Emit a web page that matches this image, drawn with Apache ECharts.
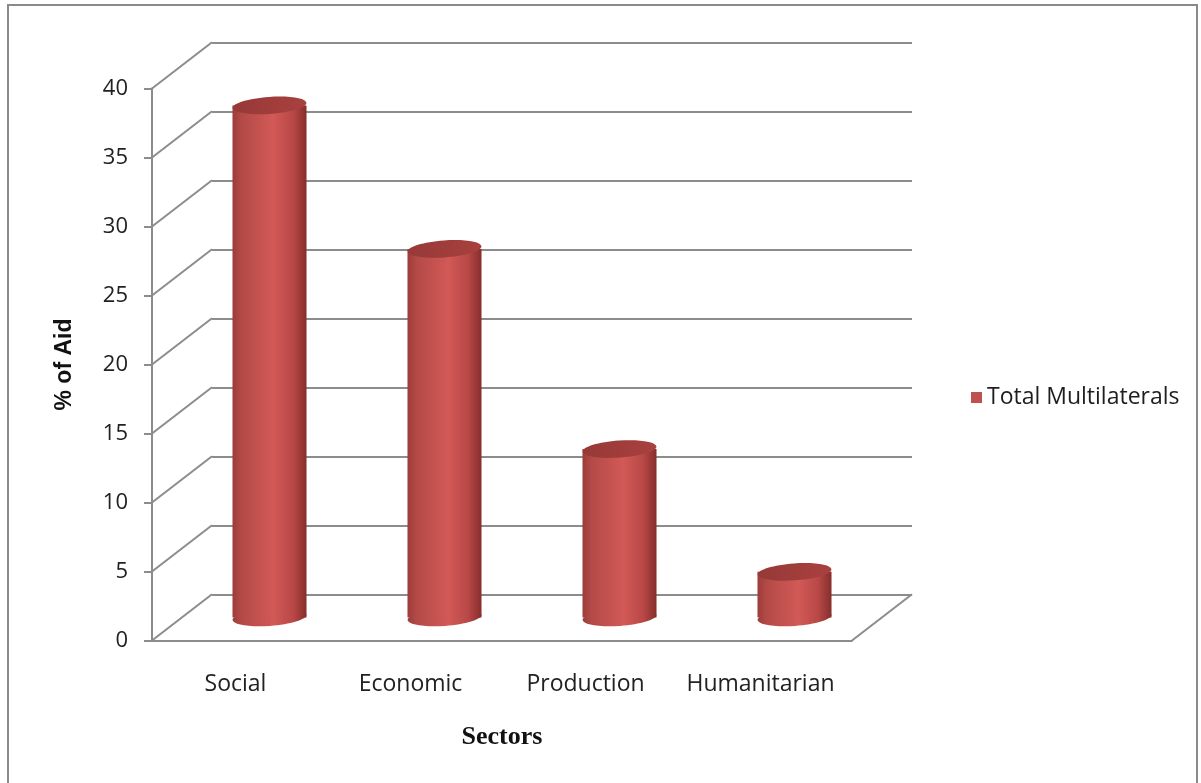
<!DOCTYPE html>
<html>
<head>
<meta charset="utf-8">
<title>% of Aid by Sector</title>
<script src="https://cdn.jsdelivr.net/npm/echarts@6/dist/echarts.min.js"></script>
<style>
  html, body { margin: 0; padding: 0; background: #ffffff; }
  #chart { width: 1201px; height: 783px; }
</style>
</head>
<body>
<div id="chart"></div>
<script>
// Sector shares of total multilateral aid
const categories = ['Social', 'Economic', 'Production', 'Humanitarian'];
const seriesName = 'Total Multilaterals';
const values = [37.1, 26.7, 12.2, 3.3];
const yTicks = [0, 5, 10, 15, 20, 25, 30, 35, 40];

// 3D box: front plane, back wall and the mid-depth plane the cylinders stand on
const DEPTH_X = 60;
const DEPTH_Y = -46.2;
const PLOT_W = 700;
const PLOT_H = 552;
const FRONT = { left: 152, top: 88.5 };
const GRID_COLOR = '#8c8c8c';
const LABEL_FONT = 'Open Sans';

const chart = echarts.init(document.getElementById('chart'), null, { renderer: 'canvas' });

const bodyGradient = () => new echarts.graphic.LinearGradient(0, 0, 1, 0, [
  { offset: 0, color: '#9c3c3a' },
  { offset: 0.12, color: '#b34a47' },
  { offset: 0.55, color: '#d25956' },
  { offset: 0.82, color: '#b84846' },
  { offset: 1, color: '#852e2c' }
]);
const topGradient = () => new echarts.graphic.LinearGradient(0, 0, 1, 1, [
  { offset: 0, color: '#963937' },
  { offset: 1, color: '#a9413f' }
]);

const valueAxisBase = {
  type: 'value', min: 0, max: 40, interval: 5
};

const option = {
  backgroundColor: '#ffffff',
  animation: false,
  graphic: [{
    type: 'rect',
    shape: { x: 8, y: 5, width: 1189, height: 790 },
    style: { fill: 'none', stroke: '#8a8a8a', lineWidth: 2 },
    silent: true
  }],
  legend: {
    data: [seriesName],
    left: 966,
    top: 381,
    icon: 'rect',
    itemWidth: 11,
    itemHeight: 11,
    itemGap: 8,
    textStyle: { fontFamily: LABEL_FONT, fontSize: 23, color: '#1e1e1e' }
  },
  grid: [
    // front plane (axis labels, floor front edge)
    { left: FRONT.left, top: FRONT.top, width: PLOT_W, height: PLOT_H, containLabel: false },
    // back wall (horizontal gridlines)
    { left: FRONT.left + DEPTH_X, top: FRONT.top + DEPTH_Y, width: PLOT_W, height: PLOT_H, containLabel: false },
    // mid-depth plane (cylinders)
    { left: FRONT.left + DEPTH_X / 2, top: FRONT.top + DEPTH_Y / 2, width: PLOT_W, height: PLOT_H, containLabel: false }
  ],
  xAxis: [
    {
      gridIndex: 0, type: 'category', data: categories,
      axisLine: { show: true, lineStyle: { color: GRID_COLOR, width: 2 } },
      axisTick: { show: false },
      axisLabel: {
        interval: 0, hideOverlap: false, margin: 32, padding: [0, 8, 0, 0],
        fontFamily: LABEL_FONT, fontSize: 23, color: '#222222'
      },
      name: 'Sectors', nameLocation: 'middle', nameGap: 84,
      nameTextStyle: { fontFamily: 'Liberation Serif', fontWeight: 'bold', fontSize: 26, color: '#111111' }
    },
    { gridIndex: 1, type: 'category', data: categories, show: false },
    { gridIndex: 2, type: 'category', data: categories, show: false }
  ],
  yAxis: [
    Object.assign({}, valueAxisBase, {
      gridIndex: 0,
      axisLine: { show: true, lineStyle: { color: GRID_COLOR, width: 2 } },
      axisTick: { show: true, length: 8, lineStyle: { color: GRID_COLOR, width: 2 } },
      axisLabel: { margin: 24, fontFamily: LABEL_FONT, fontSize: 22, color: '#222222' },
      splitLine: { show: false },
      name: '% of Aid', nameLocation: 'middle', nameGap: 76, nameRotate: 90,
      nameTextStyle: { fontFamily: 'Liberation Sans', fontWeight: 'bold', fontSize: 23, color: '#111111' }
    }),
    Object.assign({}, valueAxisBase, {
      gridIndex: 1,
      axisLine: { show: false }, axisTick: { show: false }, axisLabel: { show: false },
      splitLine: { show: true, lineStyle: { color: GRID_COLOR, width: 2 } }
    }),
    Object.assign({}, valueAxisBase, {
      gridIndex: 2, show: false, splitLine: { show: false }
    })
  ],
  series: [
    {
      // side wall diagonals and the floor's right edge
      type: 'custom',
      xAxisIndex: 0, yAxisIndex: 0,
      silent: true,
      data: yTicks.map(v => [0, v]),
      renderItem: function (params, api) {
        const cs = params.coordSys;
        const y = api.coord([0, api.value(1)])[1];
        const children = [{
          type: 'line',
          shape: { x1: cs.x, y1: y, x2: cs.x + DEPTH_X, y2: y + DEPTH_Y },
          style: { stroke: GRID_COLOR, lineWidth: 2 }
        }];
        if (api.value(1) === 0) {
          children.push({
            type: 'line',
            shape: { x1: cs.x + cs.width, y1: y, x2: cs.x + cs.width + DEPTH_X, y2: y + DEPTH_Y },
            style: { stroke: GRID_COLOR, lineWidth: 2 }
          });
        }
        return { type: 'group', children: children };
      }
    },
    {
      name: seriesName,
      type: 'custom',
      xAxisIndex: 2, yAxisIndex: 2,
      itemStyle: { color: '#c0504d' },
      data: values.map((v, i) => [i, v]),
      renderItem: function (params, api) {
        const top = api.coord([api.value(0), api.value(1)]);
        const base = api.coord([api.value(0), 0]);
        const band = api.size([1, 0])[0];
        const w = band * 0.423;
        const rx = w / 2;
        const ry = 8.5;
        const tilt = 0.07;
        const cx = top[0];
        return {
          type: 'group',
          children: [
            {
              type: 'ellipse',
              x: cx, y: base[1], rotation: tilt,
              shape: { cx: 0, cy: 0, rx: rx, ry: ry },
              style: { fill: bodyGradient() }
            },
            {
              type: 'rect',
              shape: { x: cx - rx, y: top[1], width: w, height: base[1] - top[1] },
              style: { fill: bodyGradient() }
            },
            {
              type: 'ellipse',
              x: cx, y: top[1], rotation: tilt,
              shape: { cx: 0, cy: 0, rx: rx, ry: ry },
              style: { fill: topGradient() }
            }
          ]
        };
      }
    }
  ]
};

chart.setOption(option);
</script>
</body>
</html>
